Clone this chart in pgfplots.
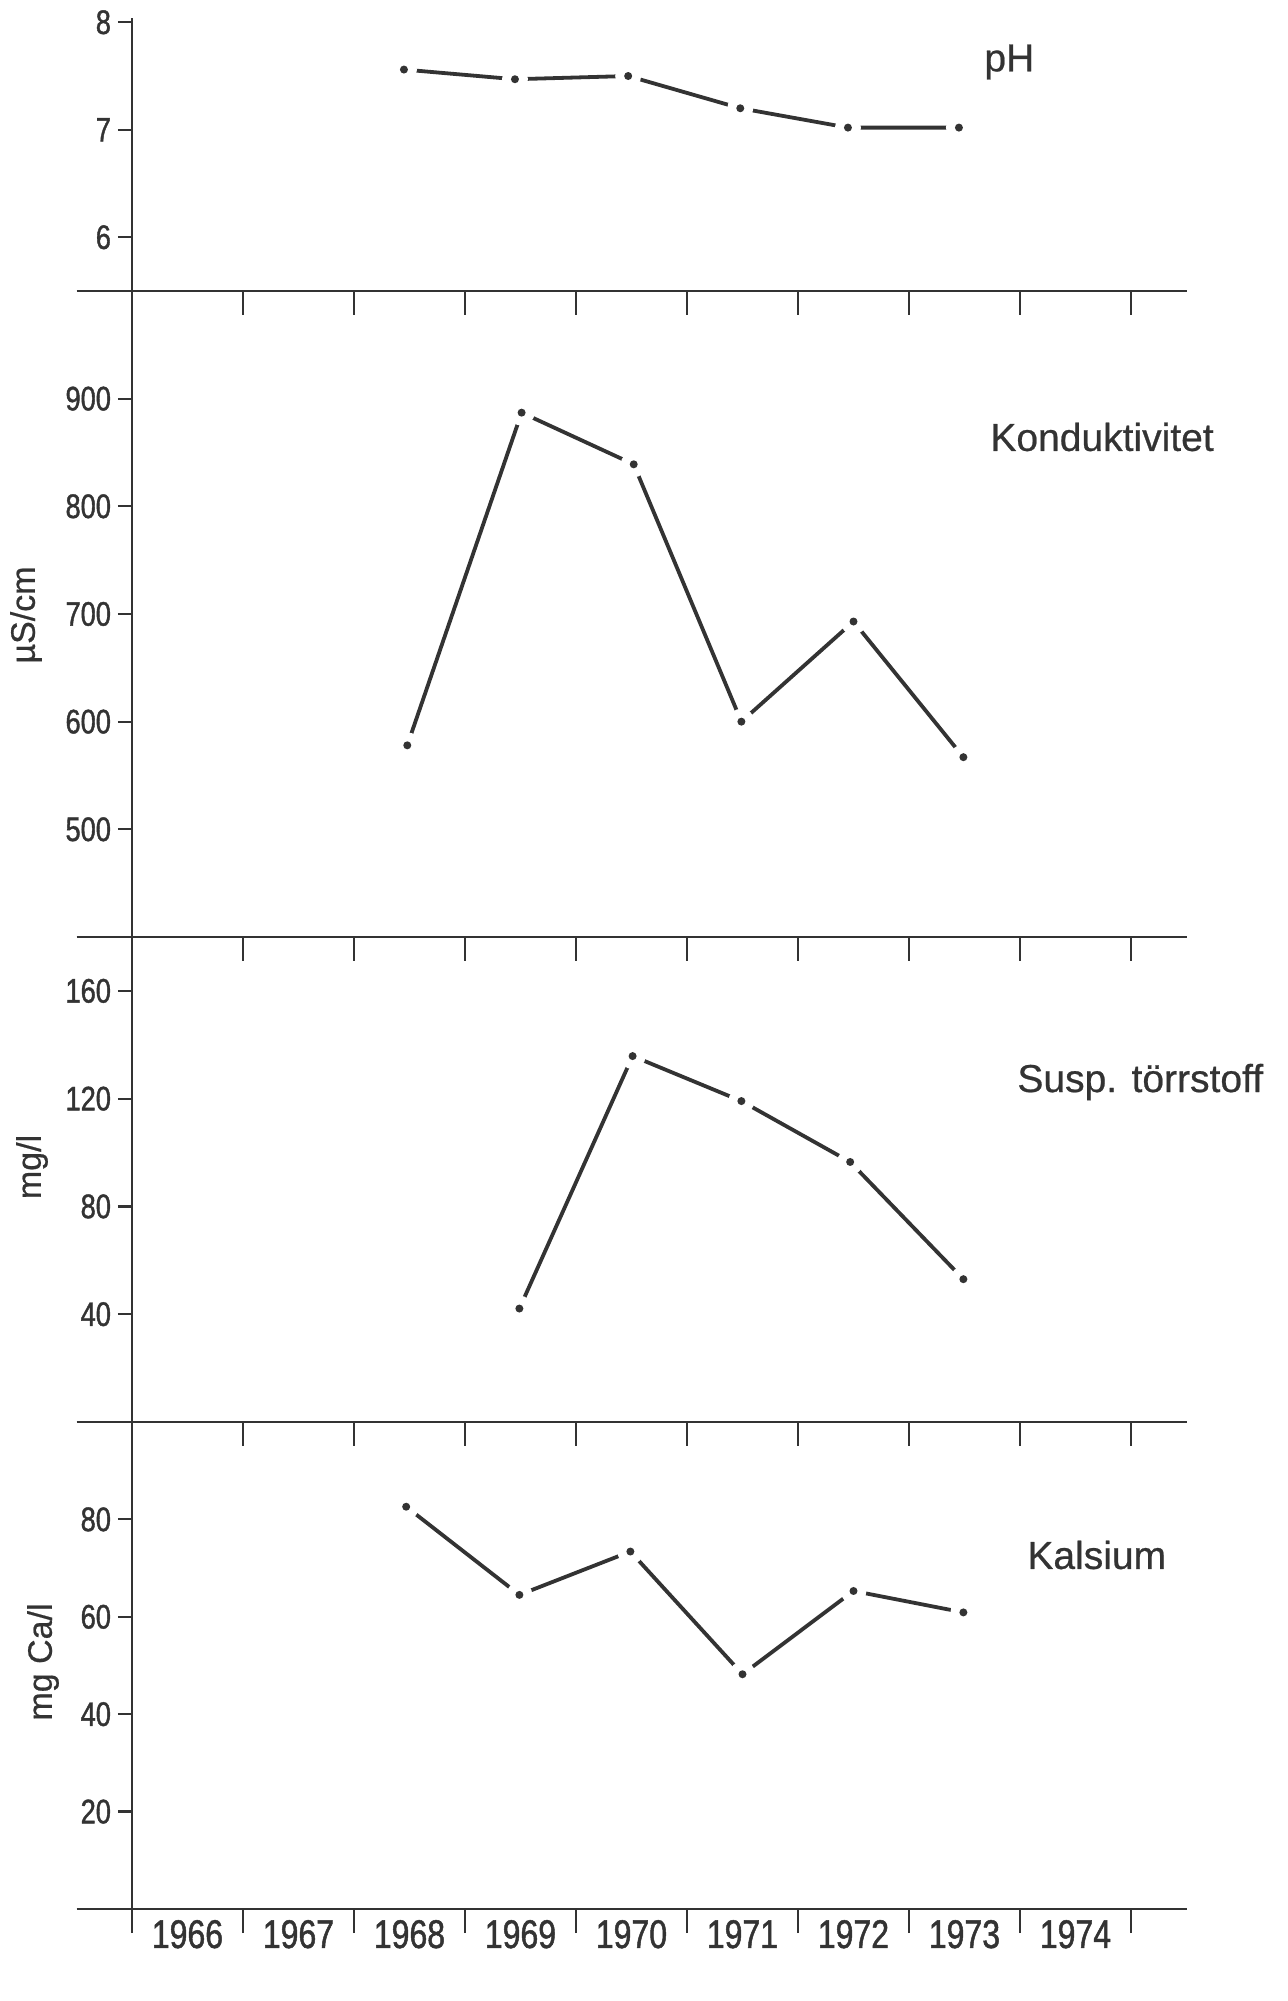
\documentclass[border=0pt]{standalone}
\usepackage{fontspec}
\setmainfont{Liberation Sans}[FakeBold=0.6]
\newfontfamily\narrowfont{Liberation Sans}[FakeStretch=0.8, FakeBold=1.2]
\usepackage{pgfplots}
\usepackage{pgfplotstable}
\pgfplotsset{compat=1.18}

% x = years since start of 1966 (tick 0 = 1966, tick 1 = 1967, ...)
\pgfplotstableread{
x y
2.45 7.56
3.45 7.47
4.47 7.50
5.48 7.20
6.45 7.02
7.45 7.02
}\phdata
\pgfplotstableread{
x y
2.48 578
3.51 887
4.52 839
5.49 600
6.50 693
7.49 567
}\konddata
\pgfplotstableread{
x y
3.49 42.1
4.51 135.8
5.49 119.1
6.47 96.5
7.49 53.0
}\suspdata
\pgfplotstableread{
x y
2.47 82.6
3.49 64.5
4.49 73.4
5.50 48.2
6.50 65.3
7.49 60.9
}\kaldata

\definecolor{ink}{gray}{0.2}

% a dot with a white ring round it, so the line stops short of it
\pgfdeclareplotmark{halodot}{%
  \pgfsetfillcolor{white}%
  \pgfpathcircle{\pgfpointorigin}{6.5pt}%
  \pgfusepath{fill}%
  \pgfsetfillcolor{ink}%
  \pgfpathcircle{\pgfpointorigin}{2pt}%
  \pgfusepath{fill}%
}

\pgfplotsset{
  panel/.style={
    scale only axis, width=527.25pt,
    xmin=0, xmax=9.5,
    axis x line=bottom, axis y line=left,
    axis line style={-, line width=1.1pt, ink},
    anchor=south west,
    clip=false,
    xtick={0,...,9}, xticklabels={},
    major tick length=12pt, tick align=outside,
    major tick style={line width=1.1pt, ink},
    ytick=\empty,
    extra y tick style={major tick length=7pt},
    /pgf/number format/assume math mode=true,
    tick label style={font=\narrowfont\fontsize{17}{17}\selectfont, text=ink},
    after end axis/.code={
      \draw[line width=1.1pt, ink] (rel axis cs:-0.0526,0) -- (rel axis cs:0,0);
    },
  },
}

\newcommand{\series}[1]{%
  \addplot[ink, line width=1.9pt] table[x=x,y=y] {#1};
  \addplot[only marks, mark=halodot] table[x=x,y=y] {#1};
}

\begin{document}
\begin{tikzpicture}
\useasboundingbox (0,0) rectangle (644pt,1000.5pt);

% pH
\begin{axis}[panel, at={(66pt,855pt)}, height=136.5pt,
  ymin=5.5, ymax=8.04, extra y ticks={6,7,8}]
  \series{\phdata}
\end{axis}

% Konduktivitet
\begin{axis}[panel, at={(66pt,532pt)}, height=323pt,
  ymin=400, ymax=1000, extra y ticks={500,600,700,800,900}]
  \series{\konddata}
\end{axis}

% Susp. toerrstoff
\begin{axis}[panel, at={(66pt,289.5pt)}, height=242.5pt,
  ymin=0, ymax=180, extra y ticks={40,80,120,160}]
  \series{\suspdata}
\end{axis}

% Kalsium
\begin{axis}[panel, at={(66pt,46pt)}, height=243.5pt,
  ymin=0, ymax=100, extra y ticks={20,40,60,80},
  xticklabels={1966,1967,1968,1969,1970,1971,1972,1973,1974,{}},
  xticklabel style={xshift=27.75pt, yshift=10pt,
    font=\narrowfont\fontsize{20}{20}\selectfont}]
  \series{\kaldata}
\end{axis}

\begin{scope}[every node/.style={text=ink, inner sep=0pt}]
  \node[anchor=west, font=\fontsize{19.5}{19.5}\selectfont] at (492pt,969.5pt) {pH};
  \node[anchor=west, font=\fontsize{19.5}{19.5}\selectfont] at (495pt,782pt) {Konduktivitet};
  \node[anchor=west, font=\fontsize{19.5}{19.5}\selectfont] at (508.5pt,459.5pt) {Susp. törrstoff};
  \node[anchor=west, font=\fontsize{19.5}{19.5}\selectfont] at (513.5pt,223pt) {Kalsium};
  \node[rotate=90, font=\fontsize{17}{17}\selectfont] at (13pt,693pt) {µS/cm};
  \node[rotate=90, font=\fontsize{17}{17}\selectfont] at (16pt,417pt) {mg/l};
  \node[rotate=90, font=\fontsize{17}{17}\selectfont] at (21.5pt,169.5pt) {mg Ca/l};
\end{scope}
\end{tikzpicture}
\end{document}
